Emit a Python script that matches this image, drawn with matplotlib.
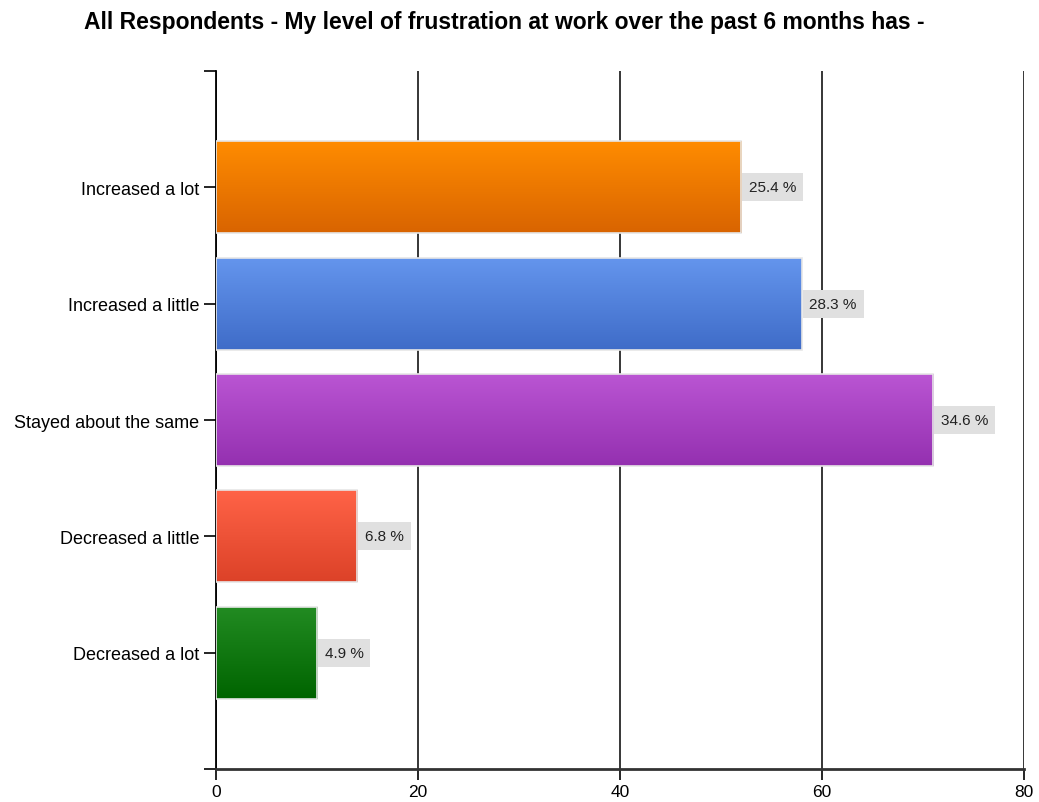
import numpy as np
import matplotlib.pyplot as plt
from matplotlib.colors import LinearSegmentedColormap

plt.rcParams['font.family'] = ['Liberation Sans Narrow', 'Liberation Sans', 'DejaVu Sans']

categories = ['Increased a lot', 'Increased a little', 'Stayed about the same',
              'Decreased a little', 'Decreased a lot']
counts = [52, 58, 71, 14, 10]
top_colors = ['#ff8c00', '#6495ed', '#ba55d3', '#ff6347', '#228b22']
bottom_colors = ['#d96400', '#3f6cc8', '#9430b0', '#dc4228', '#006400']
x_ticks = [0, 20, 40, 60, 80]

total = sum(counts)
pcts = [c / total * 100 for c in counts]

fig = plt.figure(figsize=(10.39, 8.03), dpi=100)
ax = fig.add_axes([0.2079, 0.0411, 0.7777, 0.8692])

ypos = np.arange(len(categories), 0, -1)
bars = ax.barh(ypos, counts, height=0.79, color='none', edgecolor='#e6e6e6',
               linewidth=1.2, zorder=4)

# vertical gradient fill for each bar
grad = np.linspace(0, 1, 256).reshape(-1, 1)
for bar, c1, c2 in zip(bars, top_colors, bottom_colors):
    x0, y0 = bar.get_x(), bar.get_y()
    w, h = bar.get_width(), bar.get_height()
    cmap = LinearSegmentedColormap.from_list('g', [c1, c2])
    ax.imshow(grad, cmap=cmap, aspect='auto', extent=(x0, x0 + w, y0, y0 + h),
              origin='upper', zorder=3)

for y, c, p in zip(ypos, counts, pcts):
    ax.annotate(f'{p:.1f} %', (c, y), xytext=(5.5, 0), textcoords='offset points',
                va='center', ha='left', fontsize=11, color='#222222', zorder=5,
                bbox=dict(boxstyle='square,pad=0.45', fc='#e0e0e0', ec='none'))

ax.set_xlim(0, 80)
ax.set_ylim(0, 6)
ax.set_xticks(x_ticks)
ax.set_yticks(range(7))
ax.set_yticklabels([''] + categories[::-1] + [''])
ax.tick_params(axis='y', length=9, width=1.2, labelsize=13, pad=3)
ax.tick_params(axis='x', length=8, width=1.2, labelsize=12.5, pad=3)

ax.grid(axis='x', color='black', linewidth=1.1, zorder=1)
ax.set_axisbelow(True)
for s in ['top', 'right']:
    ax.spines[s].set_visible(False)
ax.spines['left'].set_linewidth(1.3)
ax.spines['bottom'].set_linewidth(2)
ax.spines['bottom'].set_color('#333333')

fig.text(0.485, 0.972, 'All Respondents - My level of frustration at work over the past 6 months has -',
         ha='center', va='center', fontsize=16.5, fontweight='bold')

fig.savefig('out.png', dpi=100)
